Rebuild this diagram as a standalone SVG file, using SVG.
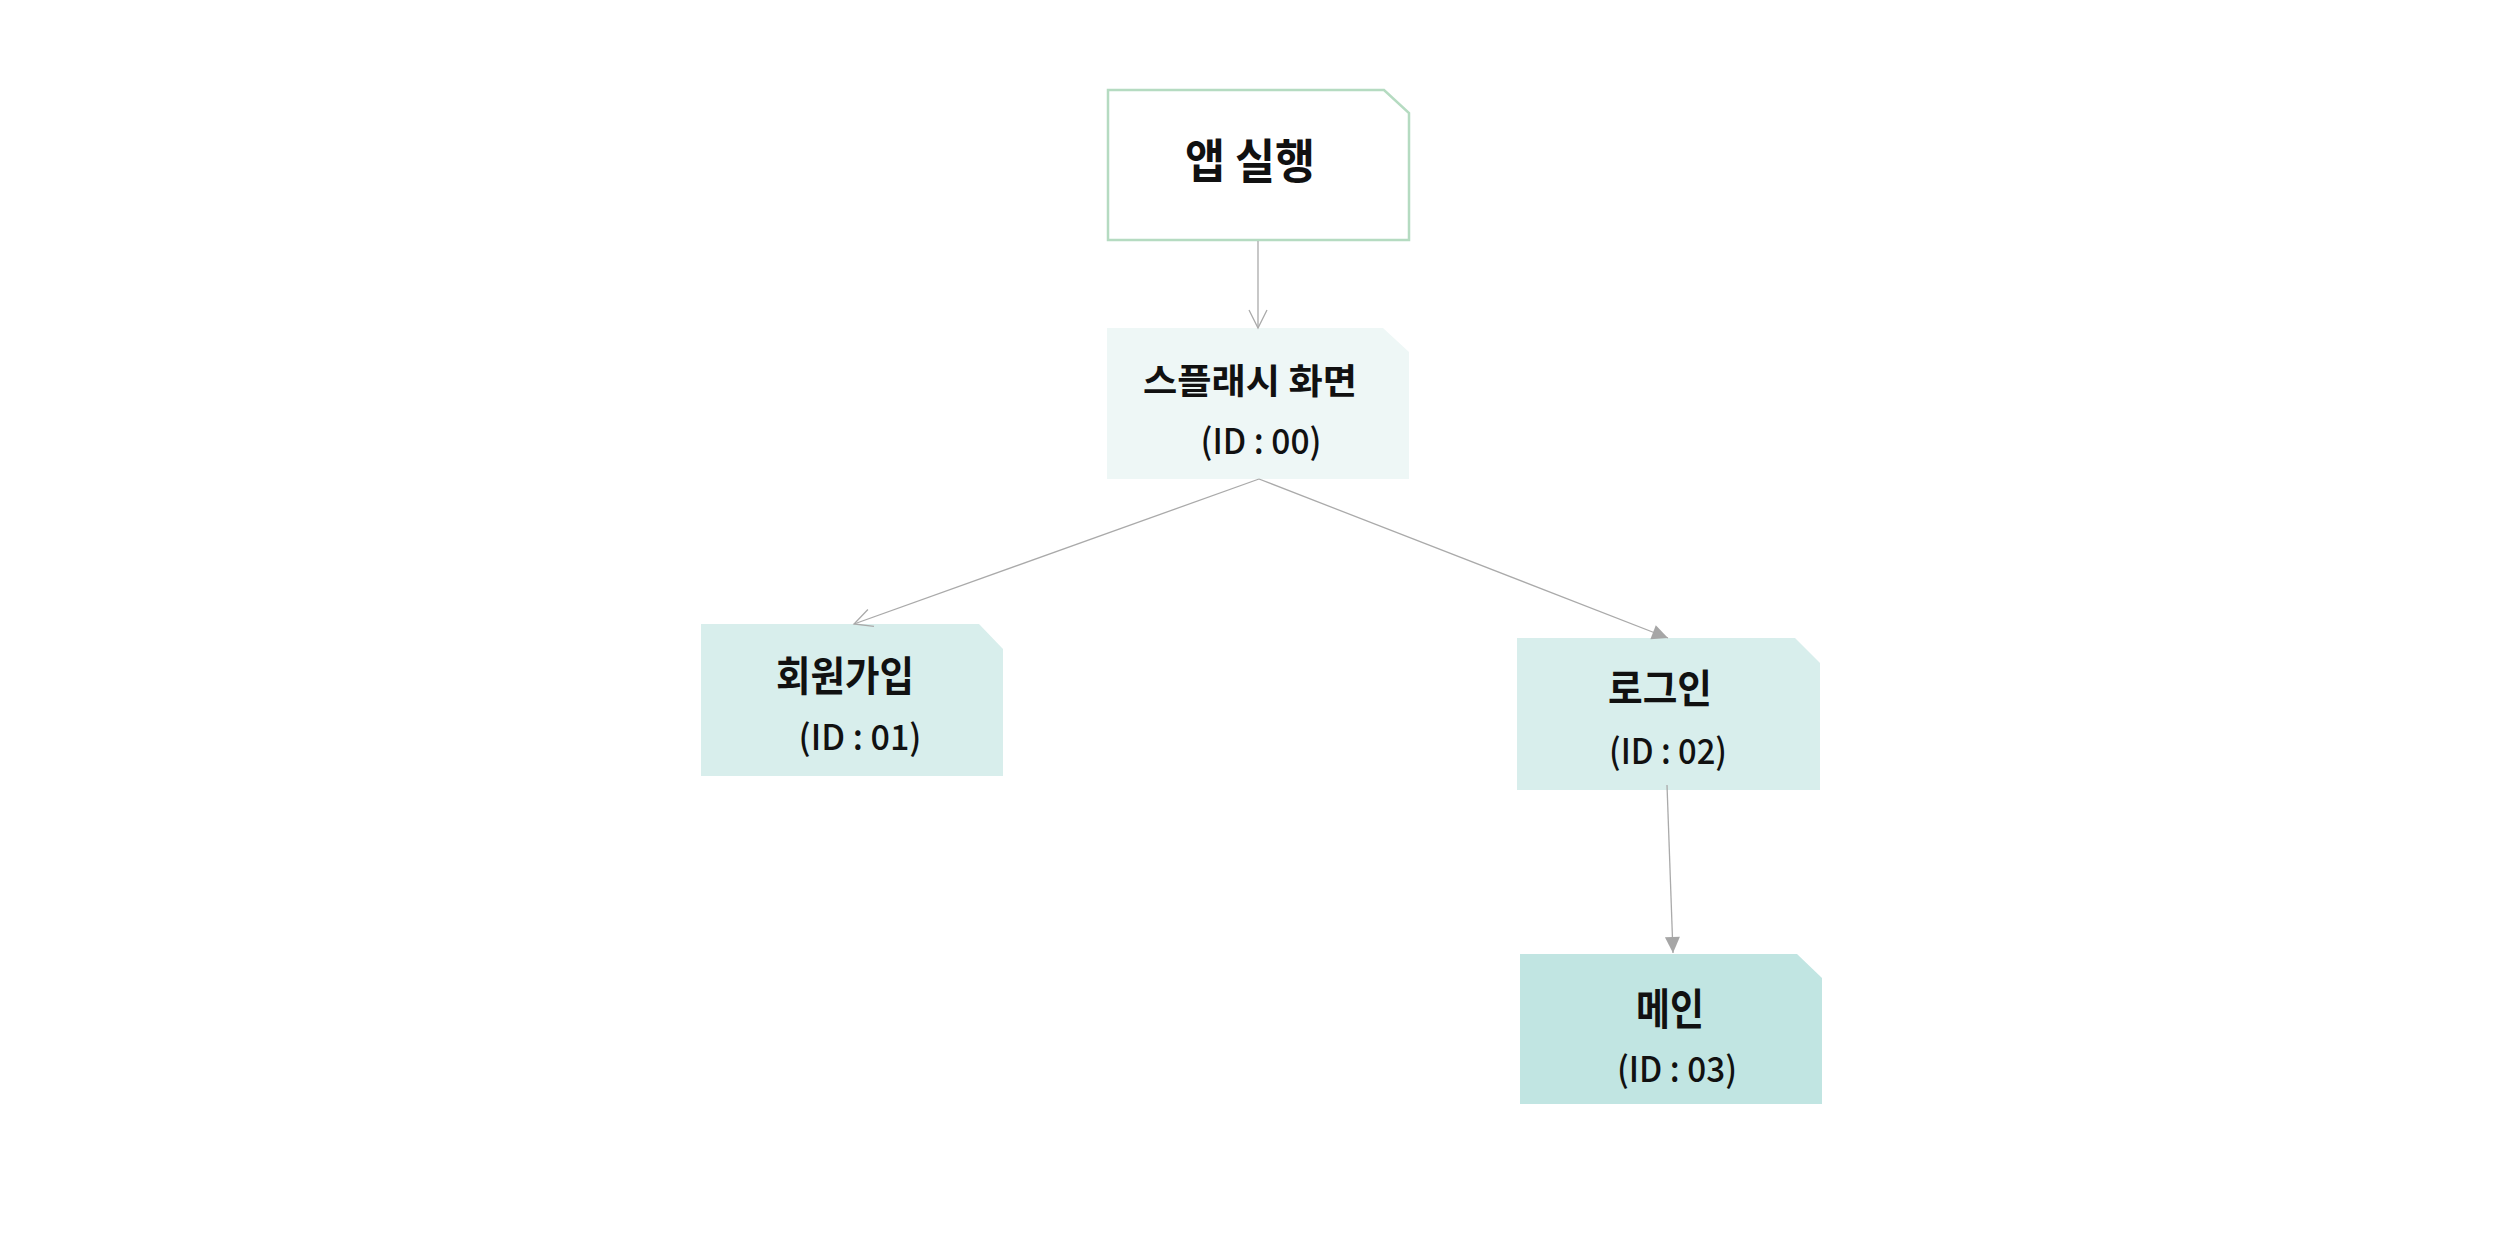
<svg xmlns="http://www.w3.org/2000/svg" width="2518" height="1248" viewBox="0 0 2518 1248">
<style>
.title{font-family:"Noto Sans CJK KR","Noto Sans",sans-serif;font-weight:700;fill:#111;text-anchor:middle}
.id{font-family:"Noto Sans CJK KR","Noto Sans",sans-serif;font-weight:500;font-size:35px;fill:#111;text-anchor:middle}
.conn{stroke:#aaaaaa;stroke-width:1.3;fill:none}
</style>
<defs>
<marker id="open" markerUnits="userSpaceOnUse" markerWidth="40" markerHeight="40" refX="0" refY="0" orient="auto" overflow="visible">
<path d="M-18,-9 L0,0 L-18,9" fill="none" stroke="#aaaaaa" stroke-width="1.3"/>
</marker>
<marker id="solid" markerUnits="userSpaceOnUse" markerWidth="40" markerHeight="40" refX="0" refY="0" orient="auto" overflow="visible">
<path d="M-16,-7.5 L0,0 L-16,7.5 Z" fill="#a6a6a6"/>
</marker>
</defs>
<rect width="2518" height="1248" fill="#ffffff"/>
<g id="node-app">
<polygon points="1108,90 1384,90 1409,113 1409,240 1108,240" fill="#ffffff" stroke="#b5dbc1" stroke-width="2.5"/>
<text class="title" x="1250" y="178" font-size="47" font-weight="900" textLength="130" lengthAdjust="spacingAndGlyphs">앱 실행</text>
</g>
<g id="node-splash">
<polygon points="1107,328 1383,328 1409,352 1409,479 1107,479" fill="#eef7f6"/>
<text class="title" x="1250" y="394" font-size="35" textLength="214" lengthAdjust="spacingAndGlyphs">스플래시 화면</text>
<text class="id" x="1261" y="454" textLength="121" lengthAdjust="spacingAndGlyphs">(ID : 00)</text>
</g>
<g id="node-signup">
<polygon points="701,624 979,624 1003,649 1003,776 701,776" fill="#d8eeec"/>
<text class="title" x="845" y="691" font-size="41" textLength="138" lengthAdjust="spacingAndGlyphs">회원가입</text>
<text class="id" x="860" y="750" textLength="123" lengthAdjust="spacingAndGlyphs">(ID : 01)</text>
</g>
<g id="node-login">
<polygon points="1517,638 1795,638 1820,663 1820,790 1517,790" fill="#d8eeec"/>
<text class="title" x="1660" y="703" font-size="40" textLength="104" lengthAdjust="spacingAndGlyphs">로그인</text>
<text class="id" x="1668" y="764" textLength="118" lengthAdjust="spacingAndGlyphs">(ID : 02)</text>
</g>
<g id="node-main">
<polygon points="1520,954 1797,954 1822,978 1822,1104 1520,1104" fill="#c1e5e2"/>
<text class="title" x="1670" y="1025" font-size="43" textLength="68" lengthAdjust="spacingAndGlyphs">메인</text>
<text class="id" x="1677" y="1082" textLength="120" lengthAdjust="spacingAndGlyphs">(ID : 03)</text>
</g>
<g id="connectors">
<line class="conn" x1="1258" y1="241" x2="1258" y2="328" marker-end="url(#open)"/>
<line class="conn" x1="1259" y1="479" x2="854" y2="624" marker-end="url(#open)"/>
<line class="conn" x1="1259" y1="479" x2="1668" y2="638" marker-end="url(#solid)"/>
<line class="conn" x1="1667" y1="785" x2="1673" y2="953" marker-end="url(#solid)"/>
</g>
</svg>
